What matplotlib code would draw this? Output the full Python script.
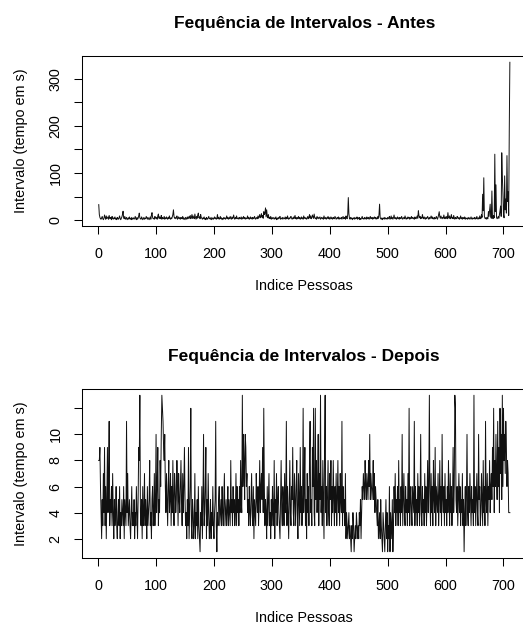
import numpy as np
import matplotlib
matplotlib.use("Agg")
import matplotlib.pyplot as plt

plt.rcParams['font.family'] = ['Liberation Sans', 'DejaVu Sans']

# intervalos antes (tempo em s)
antes = [
    33, 12, 6, 3, 2, 5, 8, 3, 1, 4, 11, 6, 2, 9, 3, 5, 7, 2, 10, 4,
    3, 6, 1, 8, 4, 2, 5, 3, 7, 2, 4, 1, 6, 3, 2, 5, 9, 3, 1, 4,
    7, 12, 19, 5, 3, 8, 2, 4, 6, 1, 3, 5, 2, 7, 3, 4, 1, 6, 2, 3,
    5, 2, 4, 8, 3, 1, 6, 2, 4, 9, 15, 5, 3, 2, 7, 4, 1, 3, 6, 2,
    4, 3, 8, 5, 2, 6, 3, 1, 4, 7, 2, 11, 16, 6, 3, 4, 2, 8, 5, 3,
    6, 2, 9, 13, 4, 7, 3, 5, 10, 2, 6, 4, 3, 8, 2, 5, 3, 7, 4, 2,
    6, 3, 9, 4, 2, 5, 3, 7, 12, 22, 8, 4, 6, 3, 5, 9, 2, 4, 7, 3,
    5, 2, 6, 4, 3, 8, 2, 5, 3, 1, 6, 4, 2, 7, 3, 5, 8, 4, 10, 3,
    6, 12, 4, 9, 5, 3, 13, 6, 2, 8, 4, 11, 15, 5, 7, 3, 12, 6, 4, 2,
    5, 3, 7, 2, 4, 1, 6, 3, 2, 5, 8, 3, 4, 2, 6, 1, 3, 5, 2, 4,
    7, 3, 5, 2, 4, 12, 3, 6, 2, 4, 8, 3, 5, 1, 4, 2, 6, 3, 5, 2,
    4, 9, 3, 6, 2, 5, 3, 8, 4, 2, 7, 3, 5, 11, 4, 2, 6, 3, 9, 4,
    3, 5, 2, 6, 4, 3, 7, 2, 5, 3, 8, 4, 6, 2, 5, 3, 4, 9, 3, 6,
    2, 4, 7, 3, 5, 2, 6, 4, 3, 8, 5, 2, 4, 6, 3, 9, 4, 7, 12, 5,
    8, 14, 6, 10, 4, 18, 12, 15, 26, 7, 22, 9, 5, 12, 4, 6, 3, 8, 2, 5,
    3, 6, 4, 2, 5, 3, 7, 1, 4, 2, 6, 3, 5, 8, 2, 4, 3, 6, 2, 5,
    4, 3, 7, 2, 6, 3, 9, 4, 2, 5, 3, 6, 8, 4, 2, 5, 3, 7, 4, 10,
    3, 6, 2, 5, 4, 8, 3, 6, 2, 4, 7, 3, 5, 2, 9, 4, 6, 3, 5, 2,
    4, 8, 3, 6, 12, 4, 9, 3, 5, 11, 7, 4, 13, 6, 3, 5, 2, 8, 4, 6,
    3, 5, 7, 2, 4, 6, 3, 5, 2, 9, 4, 3, 6, 2, 5, 4, 8, 3, 6, 2,
    4, 7, 3, 5, 2, 6, 4, 3, 8, 5, 2, 4, 6, 3, 7, 2, 5, 3, 4, 6,
    2, 5, 8, 3, 4, 6, 2, 9, 5, 3, 12, 48, 14, 4, 2, 6, 3, 5, 1, 4,
    3, 6, 2, 5, 3, 4, 7, 2, 5, 3, 6, 1, 4, 2, 5, 8, 3, 4, 2, 6,
    3, 5, 2, 7, 4, 3, 6, 2, 5, 8, 3, 4, 6, 2, 5, 3, 7, 4, 6, 2,
    5, 3, 8, 4, 12, 34, 6, 3, 2, 5, 1, 4, 3, 6, 2, 5, 3, 4, 2, 6,
    3, 5, 8, 2, 4, 9, 3, 6, 2, 5, 11, 4, 3, 6, 2, 4, 7, 3, 5, 2,
    6, 4, 3, 8, 5, 2, 4, 6, 3, 9, 4, 2, 5, 3, 7, 4, 6, 2, 5, 3,
    8, 4, 6, 3, 5, 2, 7, 4, 3, 6, 9, 4, 20, 10, 5, 8, 3, 6, 4, 12,
    5, 3, 7, 4, 2, 6, 3, 5, 8, 4, 2, 6, 3, 5, 9, 4, 7, 3, 5, 2,
    6, 4, 3, 8, 5, 2, 6, 12, 18, 7, 4, 9, 5, 3, 6, 4, 11, 5, 3, 7,
    4, 8, 3, 16, 6, 4, 9, 3, 5, 12, 4, 6, 3, 10, 5, 2, 6, 4, 3, 8,
    5, 3, 6, 2, 4, 9, 3, 5, 2, 6, 4, 3, 7, 2, 5, 3, 4, 2, 6, 3,
    5, 2, 4, 7, 3, 2, 5, 3, 4, 6, 2, 5, 3, 8, 4, 2, 5, 3, 9, 4,
    3, 12, 6, 55, 20, 90, 8, 4, 3, 6, 2, 5, 3, 18, 8, 22, 34, 7, 4, 62,
    6, 3, 10, 5, 140, 18, 75, 6, 3, 5, 8, 4, 12, 20, 30, 8, 143, 94, 58, 12,
    5, 94, 22, 45, 15, 137, 40, 60, 10, 192, 335,
]

# intervalos depois (tempo em s)
depois = [
    8, 8, 9, 6, 4, 2, 5, 3, 7, 4, 9, 3, 6, 2, 5, 9, 4, 7, 11, 3,
    5, 4, 6, 3, 7, 4, 2, 5, 3, 4, 6, 3, 2, 4, 5, 3, 6, 2, 4, 3,
    5, 4, 3, 6, 2, 5, 4, 3, 11, 4, 7, 3, 4, 5, 3, 2, 4, 6, 3, 4,
    3, 5, 2, 4, 3, 6, 4, 2, 5, 9, 8, 13, 4, 3, 5, 2, 6, 3, 4, 7,
    3, 5, 4, 2, 6, 3, 4, 5, 8, 3, 4, 2, 5, 6, 3, 4, 7, 3, 5, 10,
    4, 6, 9, 3, 5, 4, 8, 6, 10, 13, 12, 11, 9, 8, 10, 6, 4, 7, 5, 3,
    6, 8, 4, 5, 7, 3, 6, 4, 8, 5, 3, 7, 6, 4, 5, 8, 6, 3, 7, 5,
    4, 6, 8, 5, 3, 7, 4, 6, 9, 5, 3, 4, 2, 5, 3, 9, 2, 4, 6, 12,
    3, 2, 5, 4, 2, 3, 7, 2, 4, 3, 5, 2, 6, 3, 2, 1, 4, 3, 6, 2,
    5, 10, 3, 4, 6, 9, 2, 5, 3, 7, 4, 2, 3, 5, 2, 4, 3, 6, 3, 2,
    4, 5, 11, 3, 1, 4, 3, 5, 6, 3, 4, 5, 3, 6, 4, 3, 5, 7, 3, 4,
    5, 3, 4, 6, 3, 5, 4, 3, 8, 4, 5, 3, 6, 4, 5, 3, 4, 7, 3, 6,
    4, 5, 3, 6, 4, 8, 5, 4, 13, 6, 10, 8, 5, 10, 9, 6, 7, 4, 5, 3,
    6, 4, 3, 5, 7, 4, 3, 6, 2, 5, 4, 3, 7, 5, 4, 6, 3, 5, 8, 4,
    6, 7, 5, 9, 4, 12, 6, 3, 5, 4, 2, 6, 3, 5, 7, 3, 4, 2, 5, 3,
    6, 4, 3, 8, 2, 5, 4, 7, 3, 5, 6, 4, 3, 2, 5, 8, 4, 3, 6, 5,
    3, 7, 4, 5, 11, 3, 6, 4, 2, 5, 8, 4, 3, 6, 5, 9, 4, 3, 7, 5,
    3, 6, 8, 4, 2, 7, 5, 3, 9, 4, 6, 3, 5, 12, 4, 6, 9, 3, 5, 2,
    7, 4, 6, 3, 8, 11, 4, 5, 3, 9, 6, 12, 4, 3, 12, 5, 8, 4, 6, 10,
    3, 7, 5, 13, 4, 6, 3, 8, 5, 2, 9, 13, 4, 6, 3, 5, 8, 4, 3, 7,
    5, 8, 3, 6, 4, 8, 5, 3, 6, 4, 7, 3, 5, 8, 4, 6, 3, 7, 5, 4,
    11, 3, 6, 4, 5, 3, 7, 2, 4, 3, 2, 3, 4, 2, 3, 2, 1, 3, 2, 4,
    3, 1, 2, 3, 2, 4, 3, 2, 3, 2, 4, 3, 5, 2, 4, 6, 5, 7, 6, 5,
    8, 6, 5, 7, 6, 5, 8, 6, 10, 5, 7, 6, 5, 6, 8, 5, 7, 4, 6, 5,
    4, 3, 5, 2, 3, 4, 2, 5, 3, 2, 1, 4, 3, 2, 1, 3, 5, 2, 4, 1,
    3, 2, 6, 1, 4, 3, 2, 5, 1, 3, 6, 4, 7, 3, 5, 4, 6, 3, 8, 4,
    5, 3, 6, 4, 10, 3, 5, 7, 4, 3, 6, 4, 5, 3, 7, 4, 12, 3, 5, 6,
    4, 3, 6, 5, 4, 11, 3, 6, 4, 5, 3, 7, 4, 6, 3, 5, 10, 4, 3, 6,
    4, 5, 3, 7, 4, 6, 3, 5, 8, 4, 6, 13, 5, 3, 7, 4, 6, 3, 8, 5,
    4, 9, 3, 6, 5, 4, 7, 3, 5, 8, 4, 6, 3, 10, 5, 4, 6, 3, 7, 4,
    5, 3, 6, 4, 8, 5, 3, 7, 4, 6, 3, 5, 9, 4, 6, 13, 12, 5, 4, 6,
    3, 5, 7, 4, 6, 3, 5, 4, 7, 3, 5, 1, 4, 6, 3, 5, 10, 4, 3, 6,
    4, 7, 5, 3, 6, 4, 5, 3, 13, 4, 6, 3, 5, 7, 4, 3, 10, 5, 6, 3,
    4, 7, 5, 3, 8, 4, 6, 3, 11, 5, 4, 7, 3, 6, 5, 8, 4, 6, 7, 5,
    9, 6, 12, 4, 8, 6, 10, 7, 5, 11, 6, 9, 4, 12, 7, 10, 5, 13, 6, 12,
    8, 10, 7, 11, 9, 6, 8, 7, 4, 4, 4,
]

titulos = ["Fequência de Intervalos - Antes", "Fequência de Intervalos - Depois"]
xticks = [0, 100, 200, 300, 400, 500, 600, 700]
yticks_antes = [0, 50, 100, 150, 200, 250, 300]
ylabels_antes = ["0", "", "100", "", "200", "", "300"]
yticks_depois = [2, 4, 6, 8, 10, 12]
ylabels_depois = ["2", "4", "6", "8", "10", ""]

W, H = 523, 626
fig = plt.figure(figsize=(W / 100, H / 100), dpi=100)
ax1 = fig.add_axes([82.3 / W, 1 - 226 / H, 444 / W, 170 / H])
ax2 = fig.add_axes([82.3 / W, 1 - 558 / H, 444 / W, 169 / H])

paineis = [(ax1, antes, yticks_antes, ylabels_antes),
           (ax2, depois, yticks_depois, ylabels_depois)]

for (ax, y, yt, yl), titulo in zip(paineis, titulos):
    x = np.arange(1, len(y) + 1)
    ax.plot(x, y, color='#111111', linewidth=0.7)
    # limites no estilo do R (4% de folga)
    dx = 0.04 * (len(y) - 1)
    ax.set_xlim(1 - dx, len(y) + dx)
    dy = 0.04 * (max(y) - min(y))
    ax.set_ylim(min(y) - dy, max(y) + dy)
    ax.set_xticks(xticks)
    ax.set_yticks(yt)
    ax.set_yticklabels(yl, rotation=90, va='center')
    ax.tick_params(direction='out', length=5.8, width=0.75, labelsize=10.4,
                   colors='black')
    ax.tick_params(axis='x', pad=9.5)
    ax.tick_params(axis='y', pad=8.5)
    for s in ax.spines.values():
        s.set_linewidth(0.75)
    ax.set_title(titulo, fontsize=12.5, fontweight='bold', pad=20)
    ax.set_xlabel("Indice Pessoas", fontsize=10.4, labelpad=13)
    ax.set_ylabel("Intervalo (tempo em s)", fontsize=10.4, labelpad=15)

fig.savefig('out.png', dpi=100)
